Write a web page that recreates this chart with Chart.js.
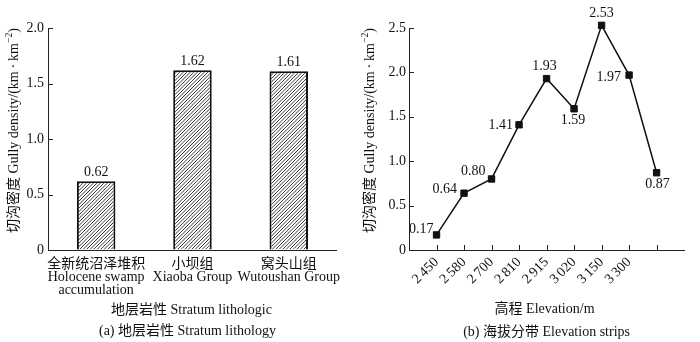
<!DOCTYPE html>
<html>
<head>
<meta charset="utf-8">
<script src="https://cdn.jsdelivr.net/npm/chart.js@4.4.1/dist/chart.umd.min.js"></script>
<style>
  html, body { margin: 0; padding: 0; background: #fff; }
  #wrap { position: relative; width: 700px; height: 342px; }
  canvas { position: absolute; top: 0; }
  #a { left: 0; }
  #b { left: 350px; }
</style>
</head>
<body>
<div id="wrap">
  <canvas id="a" width="350" height="342"></canvas>
  <canvas id="b" width="350" height="342"></canvas>
</div>
<script>
// (a) stratum lithology
const strata = [
  ['全新统沼泽堆积', 'Holocene swamp', 'accumulation'],
  ['小坝组', 'Xiaoba Group'],
  ['窝头山组', 'Wutoushan Group']
];
const strataDensity = [0.62, 1.62, 1.61];

// (b) elevation strips
const elevations = ['2\u2009450', '2\u2009580', '2\u2009700', '2\u2009810', '2\u2009915', '3\u2009020', '3\u2009150', '3\u2009300'];
const stripDensity = [0.17, 0.64, 0.80, 1.41, 1.93, 1.59, 2.53, 1.97, 0.87];

const SERIF = "'Liberation Serif', 'Noto Sans CJK SC', serif";
const INK = '#111';
const AXIS = '#222';

function hatch() {
  const c = document.createElement('canvas');
  c.width = 7; c.height = 7;
  const g = c.getContext('2d');
  g.fillStyle = '#fff';
  g.fillRect(0, 0, 7, 7);
  g.strokeStyle = '#222';
  g.lineWidth = 0.9;
  for (let k = -7; k <= 7; k += 3.5) {
    g.beginPath(); g.moveTo(k, 7); g.lineTo(k + 7, 0); g.stroke();
  }
  return g.createPattern(c, 'repeat');
}

function yTitle(ctx, x, top, size) {
  const main = '切沟密度 Gully density/(km\u2009·\u2009km';
  const sup = '−2';
  ctx.save();
  ctx.translate(x, top);
  ctx.rotate(-Math.PI / 2);
  ctx.textBaseline = 'middle';
  ctx.textAlign = 'left';
  ctx.font = size + 'px ' + SERIF;
  const w1 = ctx.measureText(main).width;
  const w3 = ctx.measureText(')').width;
  ctx.font = (size * 0.7) + 'px ' + SERIF;
  const w2 = ctx.measureText(sup).width;
  let p = -(w1 + w2 + w3);
  ctx.fillStyle = INK;
  ctx.font = size + 'px ' + SERIF;
  ctx.fillText(main, p, 0); p += w1;
  ctx.font = (size * 0.7) + 'px ' + SERIF;
  ctx.fillText(sup, p, -5); p += w2;
  ctx.font = size + 'px ' + SERIF;
  ctx.fillText(')', p, 0);
  ctx.restore();
}

// axis furniture: inward ticks, titles, caption
function frame(o) {
  return {
    id: 'frame',
    afterDraw(chart) {
      const { ctx, chartArea: a, scales } = chart;
      ctx.save();
      ctx.strokeStyle = AXIS;
      ctx.lineWidth = 1;
      ctx.beginPath();
      scales.y.ticks.forEach(t => {
        const y = Math.round(scales.y.getPixelForValue(t.value)) + 0.5;
        ctx.moveTo(a.left, y); ctx.lineTo(a.left + 5, y);
      });
      (o.xTicks || []).forEach(v => {
        const x = Math.round(scales.x.getPixelForValue(v)) + 0.5;
        ctx.moveTo(x, a.bottom); ctx.lineTo(x, a.bottom - 5);
      });
      ctx.stroke();

      ctx.fillStyle = INK;
      ctx.font = '14px ' + SERIF;
      ctx.textAlign = 'center';
      ctx.textBaseline = 'middle';
      const cx = (a.left + a.right) / 2;
      ctx.fillText(o.xTitle, cx + o.xTitleDx, a.bottom + o.xTitleDy);
      ctx.fillText(o.caption, cx + o.captionDx, a.bottom + o.captionDy);
      ctx.restore();
      yTitle(ctx, o.yTitleX, a.top, 14);
    }
  };
}

const barValues = {
  id: 'barValues',
  afterDatasetsDraw(chart) {
    const { ctx } = chart;
    const meta = chart.getDatasetMeta(0);
    ctx.save();
    ctx.fillStyle = INK;
    ctx.font = '14px ' + SERIF;
    ctx.textAlign = 'center';
    ctx.textBaseline = 'alphabetic';
    meta.data.forEach((bar, i) => {
      ctx.fillText(strataDensity[i].toFixed(2), bar.x, bar.y - 5);
    });
    ctx.restore();
  }
};

const pointValues = {
  id: 'pointValues',
  afterDatasetsDraw(chart) {
    // [align, dx, dy] relative to each marker
    const place = [
      ['right', -3, -6], ['right', -7, -4], ['right', -6, -8], ['right', -6, 1],
      ['center', -2, -12], ['center', -1, 12], ['center', 0, -12], ['right', -8, 2],
      ['center', 1, 12]
    ];
    const { ctx } = chart;
    const meta = chart.getDatasetMeta(0);
    ctx.save();
    ctx.fillStyle = INK;
    ctx.font = '14px ' + SERIF;
    ctx.textBaseline = 'middle';
    meta.data.forEach((pt, i) => {
      const [al, dx, dy] = place[i];
      ctx.textAlign = al;
      ctx.fillText(stripDensity[i].toFixed(2), pt.x + dx, pt.y + dy);
    });
    ctx.restore();
  }
};

const tickFont = { family: SERIF, size: 14 };

new Chart(document.getElementById('a'), {
  type: 'bar',
  data: {
    labels: strata,
    datasets: [{
      data: strataDensity,
      backgroundColor: hatch(),
      borderColor: INK,
      borderWidth: 2,
      barPercentage: 0.4,
      categoryPercentage: 1
    }]
  },
  options: {
    responsive: false,
    animation: false,
    layout: { padding: { top: 28, right: 12, left: 0, bottom: 0 } },
    plugins: { legend: { display: false }, tooltip: { enabled: false } },
    scales: {
      x: {
        grid: { drawOnChartArea: false, drawTicks: false },
        border: { display: true, color: AXIS, width: 1 },
        ticks: { color: INK, font: { family: SERIF, size: 14, lineHeight: 0.93 }, padding: 8, maxRotation: 0, autoSkip: false },
        afterFit: s => { s.height = 92; }
      },
      y: {
        min: 0, max: 2,
        grid: { drawOnChartArea: false, drawTicks: false },
        border: { display: true, color: AXIS, width: 1 },
        ticks: { stepSize: 0.5, color: INK, font: tickFont, padding: 4,
          callback: v => v === 0 ? '0' : v.toFixed(1) },
        afterFit: s => { s.width = 48; }
      }
    }
  },
  plugins: [barValues, frame({
    xTitle: '地层岩性 Stratum lithologic', xTitleDx: -1, xTitleDy: 60,
    caption: '(a) 地层岩性 Stratum lithology', captionDx: -5, captionDy: 81,
    yTitleX: 14
  })]
});

new Chart(document.getElementById('b'), {
  type: 'line',
  data: {
    datasets: [{
      data: stripDensity.map((v, i) => ({ x: i + 1, y: v })),
      borderColor: INK,
      borderWidth: 1.5,
      pointStyle: 'rect',
      pointRadius: 4.5,
      pointBackgroundColor: INK,
      pointBorderColor: INK,
      pointBorderWidth: 1,
      tension: 0,
      clip: false
    }]
  },
  options: {
    responsive: false,
    animation: false,
    layout: { padding: { top: 28, right: 1, left: 0, bottom: 0 } },
    plugins: { legend: { display: false }, tooltip: { enabled: false } },
    scales: {
      x: {
        type: 'linear', min: 0, max: 10,
        grid: { drawOnChartArea: false, drawTicks: false },
        border: { display: true, color: AXIS, width: 1 },
        ticks: { stepSize: 1, autoSkip: false, minRotation: 45, maxRotation: 45, color: INK, font: tickFont, padding: 4,
          callback: v => elevations[v - 1] || '' },
        afterFit: s => { s.height = 92; }
      },
      y: {
        min: 0, max: 2.5,
        grid: { drawOnChartArea: false, drawTicks: false },
        border: { display: true, color: AXIS, width: 1 },
        ticks: { stepSize: 0.5, color: INK, font: tickFont, padding: 3,
          callback: v => v === 0 ? '0' : v.toFixed(1) },
        afterFit: s => { s.width = 59; }
      }
    }
  },
  plugins: [pointValues, frame({
    xTitle: '高程 Elevation/m', xTitleDx: -2, xTitleDy: 59,
    caption: '(b) 海拔分带 Elevation strips', captionDx: 0, captionDy: 82,
    yTitleX: 20,
    xTicks: [1, 2, 3, 4, 5, 6, 7, 8, 9]
  })]
});
</script>
</body>
</html>
